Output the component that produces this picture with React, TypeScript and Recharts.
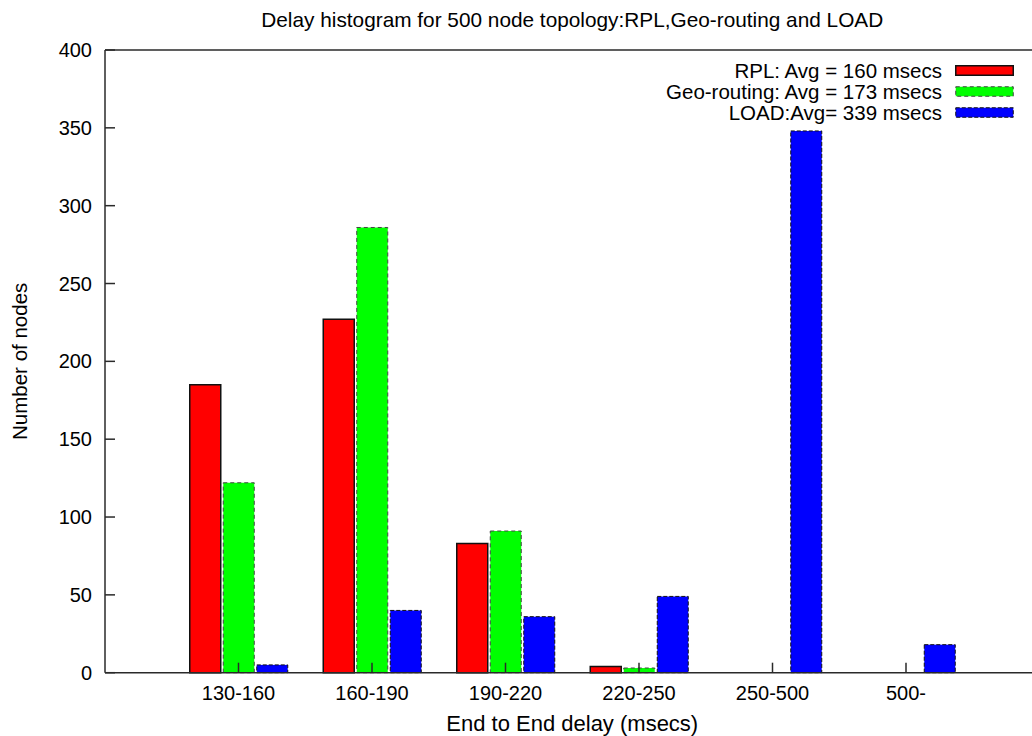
import React from "react";
import { BarChart, Bar, XAxis, YAxis, Legend } from "recharts";

// delay bins (msecs) and node counts per routing scheme
const delayBins = ["130-160", "160-190", "190-220", "220-250", "250-500", "500-"];
const rplCounts = [185, 227, 83, 4, 0, 0];
const geoCounts = [122, 286, 91, 3, 0, 0];
const loadCounts = [5, 40, 36, 49, 348, 18];
const countTicks = [0, 50, 100, 150, 200, 250, 300, 350, 400];

const seriesLabels = [
  "RPL: Avg = 160 msecs",
  "Geo-routing: Avg = 173 msecs",
  "LOAD:Avg= 339 msecs",
];

const rows = delayBins.map((bin, i) => ({
  bin,
  rpl: rplCounts[i],
  geo: geoCounts[i],
  load: loadCounts[i],
}));

const FONT = '"Liberation Sans", Arial, Helvetica, sans-serif';
const AXIS = "#2a2a2a";
const TEXT = "#000";

const barStyles = [
  { key: "rpl", fill: "#ff0000", stroke: "#111", dash: undefined, width: 1.5 },
  { key: "geo", fill: "#00ff00", stroke: "#444", dash: "4 3", width: 1 },
  { key: "load", fill: "#0000ff", stroke: "#111", dash: "4 2", width: 1 },
];

function KeyBox() {
  return (
    <div style={{ fontFamily: FONT, fontSize: 20.5, color: TEXT }}>
      {barStyles.map((s, i) => (
        <div
          key={s.key}
          style={{
            display: "flex",
            justifyContent: "flex-end",
            alignItems: "center",
            height: 21,
            lineHeight: "21px",
          }}
        >
          <span style={{ marginRight: 13, whiteSpace: "nowrap" }}>{seriesLabels[i]}</span>
          <svg width={59} height={11}>
            <rect
              x={0.75}
              y={0.75}
              width={57.5}
              height={9.5}
              fill={s.fill}
              stroke={s.stroke}
              strokeWidth={s.width}
              strokeDasharray={s.dash}
            />
          </svg>
        </div>
      ))}
    </div>
  );
}

export default function App() {
  const tickFont = { fill: TEXT, fontSize: 20, fontFamily: FONT };
  return (
    <div
      style={{
        position: "absolute",
        left: 0,
        top: 0,
        width: 1032,
        height: 736,
        overflow: "hidden",
        background: "#fff",
      }}
    >
      <BarChart
        width={1044}
        height={736}
        data={rows}
        margin={{ top: 49, right: 3.5, bottom: 0, left: 0 }}
        barSize={31}
        barGap={2.5}
      >
        <XAxis
          dataKey="bin"
          height={63.3}
          padding={{ left: 66.75, right: 66.75 }}
          stroke={AXIS}
          strokeWidth={1.5}
          tickSize={-10}
          tickMargin={23}
          tick={tickFont}
          interval={0}
          label={{
            value: "End to End delay (msecs)",
            position: "insideBottom",
            offset: 5,
            fill: TEXT,
            fontSize: 22,
            fontFamily: FONT,
          }}
        />
        <XAxis
          xAxisId="top"
          orientation="top"
          dataKey="bin"
          height={1}
          padding={{ left: 66.75, right: 66.75 }}
          stroke={AXIS}
          strokeWidth={1.5}
          tickSize={-10}
          tick={false}
          interval={0}
          label={{
            value: "Delay histogram for 500 node topology:RPL,Geo-routing and LOAD",
            position: "top",
            offset: 22,
            fill: TEXT,
            fontSize: 20.8,
            fontFamily: FONT,
          }}
        />
        <YAxis
          width={105}
          domain={[0, 400]}
          ticks={countTicks}
          interval={0}
          stroke={AXIS}
          strokeWidth={1.5}
          tickSize={-10}
          tickMargin={23}
          tick={tickFont}
          label={{
            value: "Number of nodes",
            angle: -90,
            position: "insideLeft",
            offset: 20,
            fill: TEXT,
            fontSize: 20.5,
            fontFamily: FONT,
            style: { textAnchor: "middle" },
          }}
        />
        <YAxis
          yAxisId="right"
          orientation="right"
          width={1}
          domain={[0, 400]}
          ticks={countTicks}
          interval={0}
          stroke={AXIS}
          strokeWidth={1.5}
          tickSize={-10}
          tick={false}
        />
        <Legend
          layout="vertical"
          align="center"
          verticalAlign="middle"
          wrapperStyle={{ left: 0, top: 60, width: 1014 }}
          content={() => <KeyBox />}
        />
        {barStyles.map((s, i) => (
          <Bar
            key={s.key}
            dataKey={s.key}
            name={seriesLabels[i]}
            fill={s.fill}
            stroke={s.stroke}
            strokeWidth={s.width}
            strokeDasharray={s.dash}
            isAnimationActive={false}
          />
        ))}
      </BarChart>
    </div>
  );
}
